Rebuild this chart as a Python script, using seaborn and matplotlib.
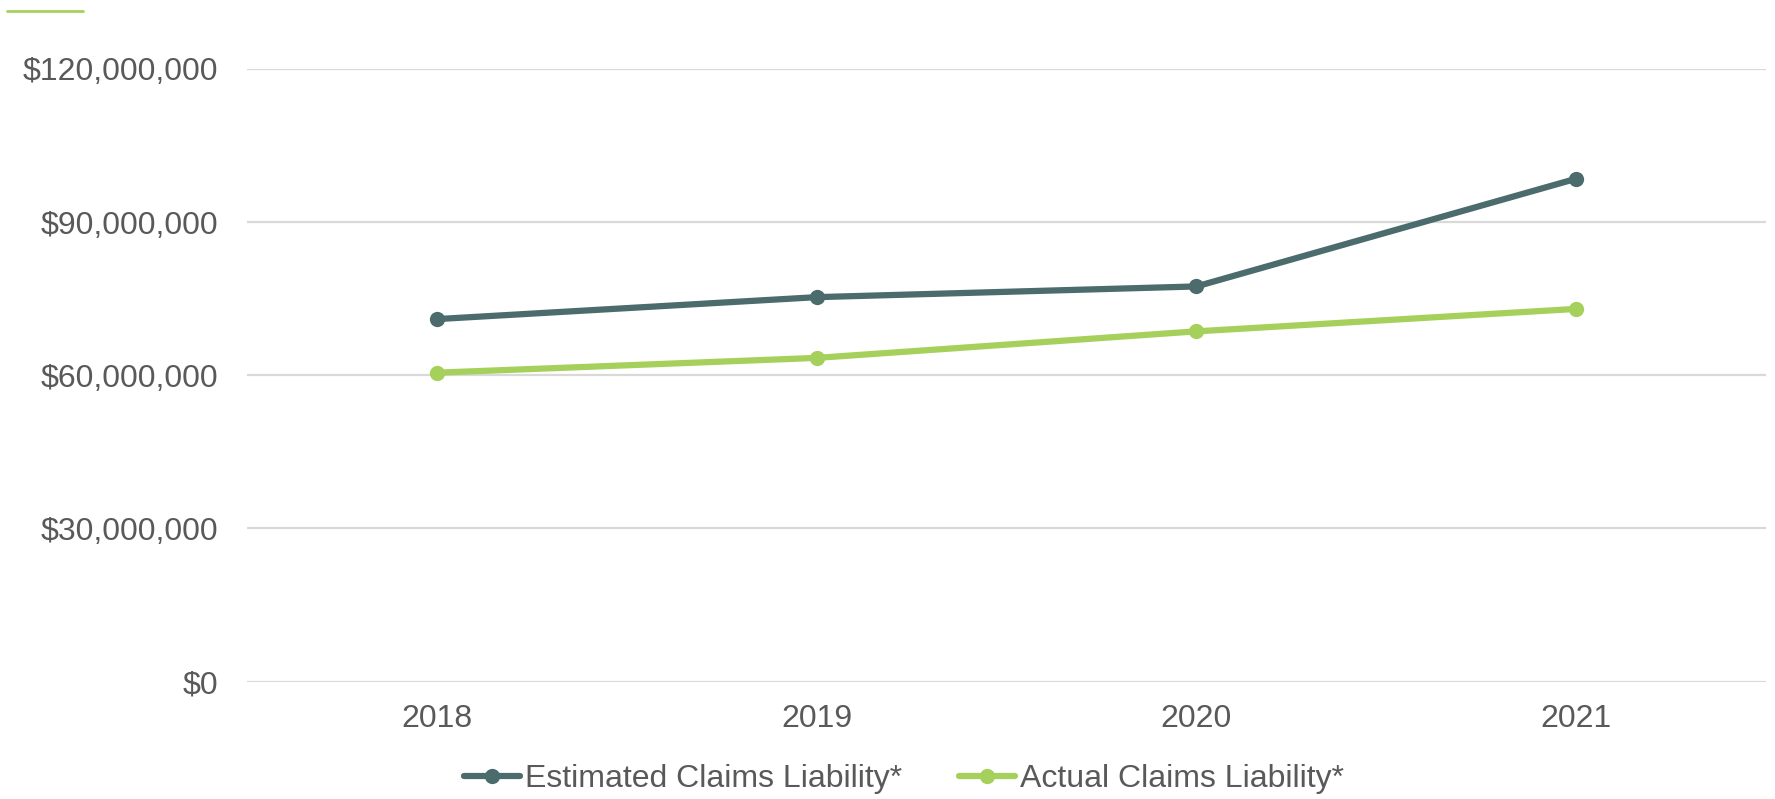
import matplotlib
matplotlib.use("Agg")
import matplotlib.pyplot as plt
from matplotlib.lines import Line2D
from matplotlib.ticker import FuncFormatter
import seaborn as sns
import pandas as pd

years = ["2018", "2019", "2020", "2021"]
estimated = [71_000_000, 75_300_000, 77_400_000, 98_500_000]
actual = [60_500_000, 63_400_000, 68_600_000, 73_000_000]
series_names = ["Estimated Claims Liability*", "Actual Claims Liability*"]
y_ticks = [0, 30_000_000, 60_000_000, 90_000_000, 120_000_000]

colors = {series_names[0]: "#4B6B6C", series_names[1]: "#A6D05C"}
text_color = "#595959"
grid_color = "#D9D9D9"

df = pd.DataFrame({
    "Year": years * 2,
    "Value": estimated + actual,
    "Series": [series_names[0]] * len(years) + [series_names[1]] * len(years),
})

sns.set_theme(style="white")
plt.rcParams["font.family"] = ["Liberation Sans", "DejaVu Sans"]

fig = plt.figure(figsize=(17.75, 7.99), dpi=100)
ax = fig.add_axes([247 / 1775, 1 - 681.5 / 799, (1766 - 247) / 1775, (681.5 - 69) / 799])

LW = 4.5
MS = 11
sns.lineplot(
    data=df, x="Year", y="Value", hue="Series", hue_order=series_names,
    palette=colors, marker="o", markersize=MS, markeredgewidth=0,
    linewidth=LW, ax=ax, legend=False, sort=False,
)

ax.set_xlim(-0.5, len(years) - 0.5)
ax.set_ylim(0, 120_000_000)
ax.set_yticks(y_ticks)
ax.yaxis.set_major_formatter(FuncFormatter(lambda v, _: f"${v:,.0f}"))
ax.grid(axis="y", color=grid_color, linewidth=1.6)
ax.set_axisbelow(True)
for s in ax.spines.values():
    s.set_visible(False)
ax.set_xlabel("")
ax.set_ylabel("")
ax.tick_params(axis="y", length=0, pad=21, labelsize=23, labelcolor=text_color)
ax.tick_params(axis="x", length=0, pad=16, labelsize=23, labelcolor=text_color)

handles = [
    Line2D([0], [0], color=colors[n], linewidth=LW, marker="o",
           markersize=MS, markeredgewidth=0, solid_capstyle="round")
    for n in series_names
]
fig.legend(
    handles, series_names, loc="center", bbox_to_anchor=(904 / 1775, 1 - 779 / 799),
    ncol=2, frameon=False, fontsize=23, labelcolor=text_color,
    handlelength=1.75, handletextpad=0.15, columnspacing=1.8, borderaxespad=0,
)

# short accent rule in the top-left corner
fig.add_artist(Line2D([7 / 1775, 83 / 1775], [1 - 11 / 799, 1 - 11 / 799],
                      color="#A6D05C", linewidth=2.0, transform=fig.transFigure))

fig.savefig("out.png", dpi=100, facecolor="white")
